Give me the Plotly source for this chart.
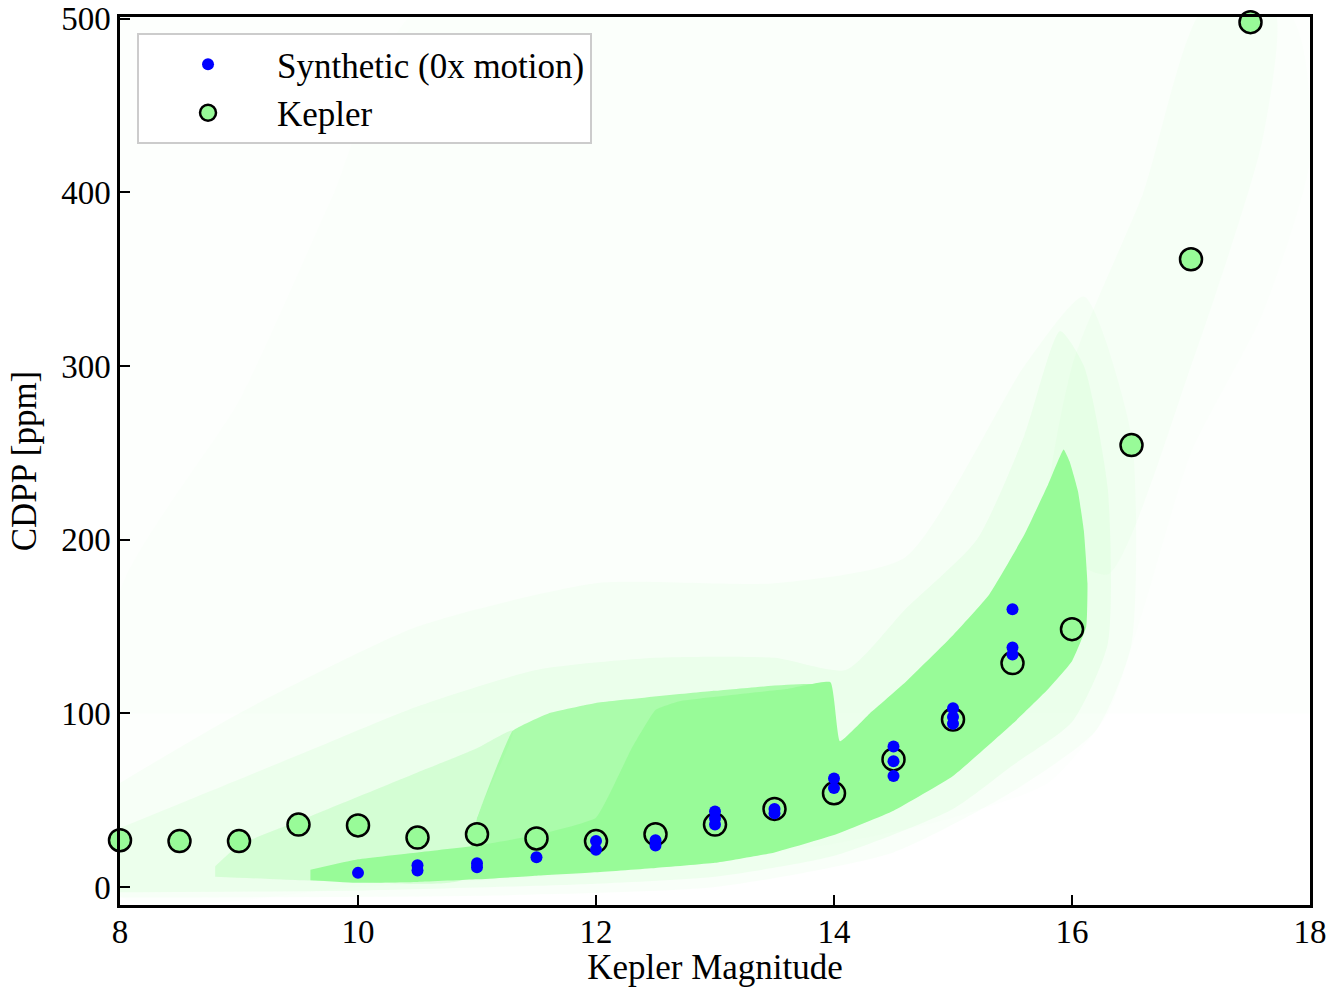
import plotly.graph_objects as go

# ---------------- data ----------------
kepler_mag = [8.0, 8.5, 9.0, 9.5, 10.0, 10.5, 11.0, 11.5, 12.0, 12.5,
              13.0, 13.5, 14.0, 14.5, 15.0, 15.5, 16.0, 16.5, 17.0, 17.5]
kepler_cdpp = [27.0, 26.5, 26.5, 36.0, 35.5, 28.5, 30.5, 28.0, 26.5, 30.5,
               36.0, 45.0, 54.0, 73.5, 96.5, 129.0, 148.5, 254.5, 361.5, 498.0]

synth_mag = [10.0, 10.5, 10.5, 11.0, 11.0, 11.5, 12.0, 12.0, 12.5, 12.5,
             13.0, 13.0, 13.0, 13.5, 13.5, 14.0, 14.0, 14.5, 14.5, 14.5,
             15.0, 15.0, 15.0, 15.5, 15.5, 15.5]
synth_cdpp = [8.2, 12.6, 9.6, 13.8, 11.5, 17.2, 26.5, 21.5, 27.0, 24.0,
              43.5, 39.5, 36.0, 45.0, 42.5, 62.5, 57.0, 81.0, 72.5, 64.0,
              103.0, 98.0, 94.0, 160.0, 138.0, 134.0]

# Kepler target density cloud, read as outlines of its shaded regions
core_x = [9.6, 10.0, 10.5, 11.0, 11.5, 12.0, 12.5, 13.0, 13.5, 14.0, 14.5, 15.0,
          15.5, 15.8, 16.0, 16.12,
          16.13, 16.1, 16.05, 15.98, 15.93, 15.8, 15.6, 15.3, 15.0, 14.6, 14.3,
          14.05, 13.97, 13.6, 13.2, 12.7, 12.5, 12.3, 12.0, 11.5, 11.0, 10.5,
          10.0, 9.6]
core_y = [4, 2.5, 3, 4.5, 6.5, 8.5, 11, 14, 20, 30, 44, 64,
          94, 114, 130, 150,
          175, 205, 228, 245, 252, 232, 203, 168, 145, 118, 100,
          84, 118, 114, 111, 107, 102, 80, 40, 30, 24, 20,
          16, 10]

shelf_x = [10.9, 12.0, 13.0, 13.9, 13.9, 13.0, 12.0, 11.6, 11.3, 11.0]
shelf_y = [9, 12, 20, 45, 116, 113, 106, 100, 90, 40]

mid_x = [8.8, 9.5, 10.0, 10.9, 11.0, 11.3, 11.0, 10.5, 10.0, 9.5, 9.0, 8.8]
mid_y = [6, 4, 3, 5, 40, 90, 80, 66, 52, 38, 24, 12]

halo_x = [8.0, 10.0, 12.0, 13.0, 14.0, 15.0, 15.5, 16.0, 16.3, 16.3, 16.1,
          15.9, 15.6, 15.2, 14.6, 14.1, 13.5, 12.5, 11.5, 10.5, 9.5, 8.5, 8.0]
halo_y = [-3, -2, 2, 6, 18, 45, 70, 95, 140, 230, 300,
          320, 260, 200, 160, 125, 132, 132, 125, 104, 76, 48, 34]

halo2_x = [8.0, 11.0, 13.0, 14.5, 15.5, 16.2, 16.5, 16.5, 16.1, 15.6, 14.6,
           13.5, 12.0, 10.5, 9.0, 8.0]
halo2_y = [-6, -5, 0, 20, 55, 90, 140, 260, 340, 300, 190,
           175, 175, 150, 100, 60]

sparse_x = [8.0, 18.0, 18.0, 8.0]
sparse_y = [100, 100, 505, 505]

faint_x = [8.0, 8.0, 9.0, 9.8, 10.5, 17.8, 18.0, 17.6, 17.0, 16.6, 16.3,
           15.8, 15.0, 14.0, 12.0, 10.0, 8.0]
faint_y = [-5, 170, 280, 400, 505, 505, 420, 330, 250, 160, 100,
           60, 40, 25, 8, 0, -5]

streak_x = [15.8, 16.3, 17.0, 17.6, 17.7, 17.1, 16.6, 16.0, 15.8]
streak_y = [200, 180, 300, 430, 505, 505, 400, 300, 200]

x_ticks = [8, 10, 12, 14, 16, 18]
y_ticks = [0, 100, 200, 300, 400, 500]

# ---------------- figure ----------------
FONT = "Liberation Serif"
GREEN = "152,251,152"

fig = go.Figure()


def region(xs, ys, alpha, smooth=0.6):
    fig.add_trace(go.Scatter(
        x=xs, y=ys, mode="lines", fill="toself",
        fillcolor=f"rgba({GREEN},{alpha})",
        line=dict(width=0, shape="spline", smoothing=smooth),
        hoverinfo="skip", showlegend=False))


region(sparse_x, sparse_y, 0.015, 0)
region(faint_x, faint_y, 0.025)
region(streak_x, streak_y, 0.05)
region(halo2_x, halo2_y, 0.06)
region(halo_x, halo_y, 0.1)
region(mid_x, mid_y, 0.28)
region(shelf_x, shelf_y, 0.78, 0.3)
region(core_x, core_y, 1.0, 0.35)

fig.add_trace(go.Scatter(
    x=kepler_mag, y=kepler_cdpp, mode="markers", name="Kepler",
    legendrank=2,
    marker=dict(size=22, color="rgb(152,251,152)",
                line=dict(color="black", width=2.5)),
    cliponaxis=False))

fig.add_trace(go.Scatter(
    x=synth_mag, y=synth_cdpp, mode="markers", name="Synthetic (0x motion)",
    legendrank=1,
    marker=dict(size=12, color="#0000ff", line=dict(width=0))))

axis_common = dict(
    showgrid=False, zeroline=False, showline=True, linecolor="black",
    linewidth=2.5, mirror=True, ticks="inside", ticklen=10, tickwidth=2,
    tickcolor="black", automargin=False,
    tickfont=dict(family=FONT, size=33, color="black"),
)

fig.update_xaxes(range=[8, 18], tickvals=x_ticks, ticklabelstandoff=-4,
                 title=dict(text="Kepler Magnitude",
                            font=dict(family=FONT, size=35, color="black"),
                            standoff=10),
                 **axis_common)
fig.update_yaxes(range=[-10.3, 501], tickvals=y_ticks,
                 title=dict(text="CDPP [ppm]",
                            font=dict(family=FONT, size=35, color="black"),
                            standoff=14),
                 **axis_common)

fig.update_layout(
    width=1340, height=987,
    margin=dict(l=120, r=30, t=17, b=82),
    plot_bgcolor="white", paper_bgcolor="white",
    font=dict(family=FONT, size=35, color="black"),
    legend=dict(x=0.0143, y=0.982, xanchor="left", yanchor="top",
                bgcolor="rgba(255,255,255,0.85)", bordercolor="#cccccc",
                borderwidth=2, font=dict(family=FONT, size=35),
                itemwidth=128, traceorder="normal"),
)

fig.write_html("out.html")
